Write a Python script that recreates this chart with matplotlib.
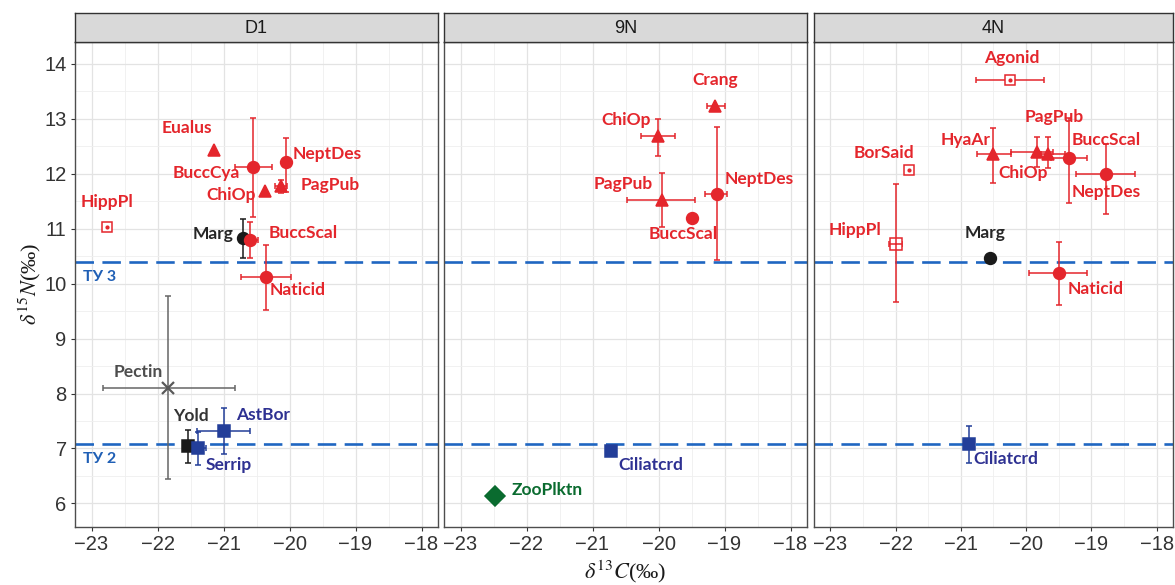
import numpy as np
import matplotlib
matplotlib.use("Agg")
import matplotlib.pyplot as plt

plt.rcParams["mathtext.fontset"] = "stix"

nan = np.nan

# ---- data: delta13C (x), delta15N (y), error ranges (low/high), marker group
d1_names = ["HippPl", "Eualus", "BuccCya", "NeptDes", "ChiOp", "PagPub", "Marg",
            "BuccScal", "Naticid", "Pectin", "Yold", "Serrip", "AstBor"]
d1_c = [-22.77, -21.15, -20.56, -20.06, -20.37, -20.13, -20.71, -20.60, -20.36, -21.84, -21.54, -21.38, -20.99]
d1_n = [11.04, 12.43, 12.13, 12.21, 11.69, 11.77, 10.83, 10.79, 10.13, 8.10, 7.05, 7.01, 7.32]
d1_c_lo = [nan, nan, -20.82, nan, nan, -20.22, nan, -20.70, -20.74, -22.82, -21.62, -21.42, -21.40]
d1_c_hi = [nan, nan, -20.26, nan, nan, -20.04, nan, -20.48, -19.98, -20.82, -21.46, -21.26, -20.60]
d1_n_lo = [nan, nan, 11.22, 11.67, nan, 11.65, 10.47, 10.46, 9.52, 6.45, 6.74, 6.70, 6.90]
d1_n_hi = [nan, nan, 13.01, 12.65, nan, 11.89, 11.18, 11.13, 10.70, 9.77, 7.33, 7.30, 7.73]
d1_group = ["open", "tri", "circ", "circ", "tri", "tri", "marg", "circ", "circ", "pectin", "yold", "blue", "blue"]

n9_names = ["Crang", "ChiOp", "PagPub", "BuccScal", "NeptDes", "Ciliatcrd", "ZooPlktn"]
n9_c = [-19.15, -20.01, -19.95, -19.50, -19.12, -20.72, -22.48]
n9_n = [13.24, 12.69, 11.52, 11.20, 11.64, 6.95, 6.14]
n9_c_lo = [-19.27, -20.27, -20.47, nan, -19.29, nan, nan]
n9_c_hi = [-18.99, -19.75, -19.44, nan, -18.96, nan, nan]
n9_n_lo = [nan, 12.32, 11.04, nan, 10.43, nan, nan]
n9_n_hi = [nan, 12.99, 12.01, nan, 12.85, nan, nan]
n9_group = ["tri", "tri", "tri", "circ", "circ", "blue", "zoo"]

n4_names = ["Agonid", "HyaAr", "ChiOp", "PagPub", "BuccScal", "NeptDes", "BorSaid",
            "HippPl", "Marg", "Naticid", "Ciliatcrd"]
n4_c = [-20.25, -20.50, -19.84, -19.67, -19.35, -18.77, -21.80, -22.00, -20.56, -19.50, -20.87]
n4_n = [13.71, 12.36, 12.40, 12.37, 12.28, 12.00, 12.07, 10.73, 10.47, 10.20, 7.08]
n4_c_lo = [-20.77, -20.75, -20.23, -19.77, -19.62, -19.24, nan, -22.10, nan, -19.95, nan]
n4_c_hi = [-19.72, -20.23, -19.59, -19.41, -19.07, -18.33, nan, -21.90, nan, -19.07, nan]
n4_n_lo = [nan, 11.83, 12.13, 12.10, 11.46, 11.27, nan, 9.67, nan, 9.61, 6.73]
n4_n_hi = [nan, 12.83, 12.67, 12.67, 13.01, 12.54, nan, 11.81, nan, 10.76, 7.41]
n4_group = ["open", "tri", "tri", "tri", "circ", "circ", "open", "openplus", "marg", "circ", "blue"]

panel_titles = ["D1", "9N", "4N"]
ty_levels = [10.39, 7.08]
ty_labels = ["ТУ 3", "ТУ 2"]

# label offsets in pixels (centre of text relative to point)
d1_lab = {"HippPl": (0, 25), "Eualus": (-27, 22), "BuccCya": (-46, -6), "NeptDes": (42, 8),
          "ChiOp": (-34, -4), "PagPub": (49, 1), "Marg": (-30, 4), "BuccScal": (53, 7),
          "Naticid": (32, -13), "Pectin": (-30, 16), "Yold": (3, 30), "Serrip": (30, -17),
          "AstBor": (39, 16)}
n9_lab = {"Crang": (1, 26), "ChiOp": (-32, 16), "PagPub": (-39, 16), "BuccScal": (-8, -16),
          "NeptDes": (43, 15), "Ciliatcrd": (40, -14), "ZooPlktn": (52, 6)}
n4_lab = {"Agonid": (2, 22), "HyaAr": (-28, 14), "ChiOp": (-13, -21), "PagPub": (7, 37),
          "BuccScal": (38, 18), "NeptDes": (0, -18), "BorSaid": (-25, 17), "HippPl": (-41, 14),
          "Marg": (-5, 25), "Naticid": (37, -16), "Ciliatcrd": (36, -15)}

red = "#E4262C"
styles = {
    "circ": dict(marker="o", ms=8.5, mfc=red, mec=red, ec=red, tc=red),
    "tri": dict(marker="^", ms=9, mfc=red, mec=red, ec=red, tc=red),
    "open": dict(marker="s", ms=7.5, mfc="white", mec=red, ec=red, tc=red),
    "openplus": dict(marker="s", ms=8, mfc="white", mec=red, ec=red, tc=red),
    "marg": dict(marker="o", ms=8.5, mfc="#1A1A1A", mec="#1A1A1A", ec="#1A1A1A", tc="#262626"),
    "yold": dict(marker="s", ms=8.5, mfc="#1A1A1A", mec="#1A1A1A", ec="#1A1A1A", tc="#333333"),
    "blue": dict(marker="s", ms=8.5, mfc="#233E99", mec="#233E99", ec="#233E99", tc="#2E3192"),
    "pectin": dict(marker="x", ms=9, mfc="#5A5A5A", mec="#5A5A5A", ec="#666666", tc="#4D4D4D"),
    "zoo": dict(marker="D", ms=10, mfc="#0A6B2F", mec="#0A6B2F", ec="#0A6B2F", tc="#0A6B2F"),
}

W, H = 1175, 585
fig = plt.figure(figsize=(W / 100, H / 100), dpi=100)
panel_x = [(75, 438), (444, 807), (814, 1173)]
top, bottom, strip_top = 42, 527, 13

panels = [
    (d1_names, d1_c, d1_n, d1_c_lo, d1_c_hi, d1_n_lo, d1_n_hi, d1_group, d1_lab),
    (n9_names, n9_c, n9_n, n9_c_lo, n9_c_hi, n9_n_lo, n9_n_hi, n9_group, n9_lab),
    (n4_names, n4_c, n4_n, n4_c_lo, n4_c_hi, n4_n_lo, n4_n_hi, n4_group, n4_lab),
]

for i, (x0, x1) in enumerate(panel_x):
    ax = fig.add_axes([x0 / W, (H - bottom) / H, (x1 - x0) / W, (bottom - top) / H])
    sax = fig.add_axes([x0 / W, (H - top) / H, (x1 - x0) / W, (top - strip_top) / H])
    sax.set_facecolor("#D9D9D9")
    sax.set_xticks([]); sax.set_yticks([])
    for s in sax.spines.values():
        s.set_color("#333333"); s.set_linewidth(1.0)
    sax.text(0.5, 0.45, panel_titles[i], ha="center", va="center", fontsize=13,
             color="#1A1A1A", family="Liberation Sans", transform=sax.transAxes)

    ax.set_xlim(-23.25, -17.75)
    ax.set_ylim(5.57, 14.4)
    ax.set_xticks(np.arange(-23, -17.9, 1))
    ax.set_xticks(np.arange(-22.5, -17.9, 1), minor=True)
    ax.set_yticks(np.arange(6, 14.1, 1))
    ax.set_yticks(np.arange(6.5, 14.1, 1), minor=True)
    ax.grid(True, which="major", color="#E3E3E3", lw=0.9)
    ax.grid(True, which="minor", color="#EFEFEF", lw=0.6)
    ax.set_axisbelow(True)
    for s in ax.spines.values():
        s.set_color("#4D4D4D"); s.set_linewidth(1.0)
    ax.tick_params(which="minor", length=0)
    ax.tick_params(which="major", length=3, color="#333333", labelsize=14.5,
                   labelcolor="#333333", pad=3)
    ax.set_xticklabels(["\u221223", "\u221222", "\u221221", "\u221220", "\u221219", "\u221218"],
                       family="Liberation Sans")
    if i == 0:
        ax.set_yticklabels([str(v) for v in range(6, 15)], family="Liberation Sans")
    else:
        ax.tick_params(axis="y", labelleft=False, length=0)

    for lev in ty_levels:
        ax.axhline(lev, color="#1F66C1", lw=1.9, dashes=(7, 3.2), zorder=2)
    if i == 0:
        for lev, lab in zip(ty_levels, ty_labels):
            ax.annotate(lab, xy=(0, lev), xycoords=("axes fraction", "data"),
                        xytext=(8, -15), textcoords="offset pixels", ha="left", va="center",
                        fontsize=11.5, fontweight="bold", color="#1F5FB5",
                        family=["Lato", "DejaVu Sans"])

    names, cx, ny, clo, chi, nlo, nhi, grp, lab = panels[i]
    for k, nm in enumerate(names):
        st = styles[grp[k]]
        if not np.isnan(clo[k]):
            ax.errorbar(cx[k], ny[k], xerr=[[cx[k] - clo[k]], [chi[k] - cx[k]]], fmt="none",
                        ecolor=st["ec"], elinewidth=1.1, capsize=2.5, capthick=1.1, zorder=3)
        if not np.isnan(nlo[k]):
            ax.errorbar(cx[k], ny[k], yerr=[[ny[k] - nlo[k]], [nhi[k] - ny[k]]], fmt="none",
                        ecolor=st["ec"], elinewidth=1.1, capsize=2.5, capthick=1.1, zorder=3)
        mew = 1.6 if st["marker"] == "x" else 1.1
        ax.plot(cx[k], ny[k], marker=st["marker"], ms=st["ms"], mfc=st["mfc"], mec=st["mec"],
                mew=mew, ls="none", zorder=4)
        if grp[k] == "open":
            ax.plot(cx[k], ny[k], marker="o", ms=2, color=red, ls="none", zorder=5)
        if grp[k] == "openplus":
            ax.plot(cx[k], ny[k], marker="+", ms=8, mew=1.1, color=red, ls="none", zorder=5)
        dx, dy = lab[nm]
        ax.annotate(nm, xy=(cx[k], ny[k]), xytext=(dx, dy), textcoords="offset pixels",
                    ha="center", va="center", fontsize=12.5, fontweight="bold",
                    color=st["tc"], family="Lato", zorder=6)

fig.text(30 / W, 1 - 284 / H, r"$\delta^{15}N$(‰)", rotation=90, ha="center", va="center",
         fontsize=16, family="Liberation Serif", color="#1A1A1A")
fig.text(625 / W, 1 - 572 / H, r"$\delta^{13}C$(‰)", ha="center", va="center",
         fontsize=16, family="Liberation Serif", color="#1A1A1A")

fig.savefig("out.png", dpi=100)
